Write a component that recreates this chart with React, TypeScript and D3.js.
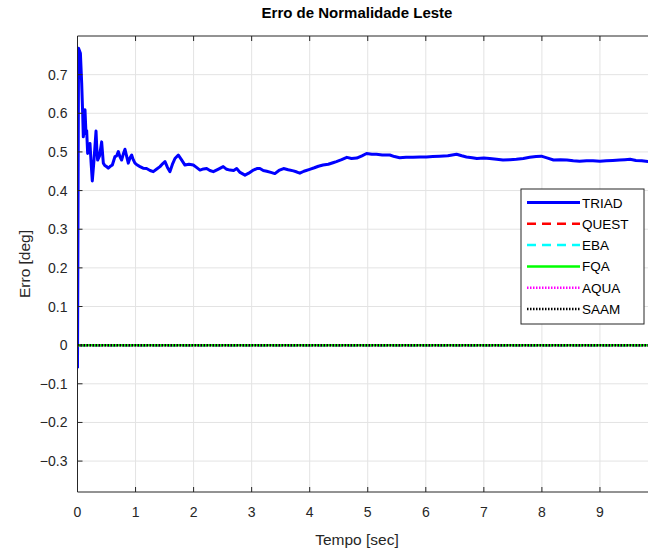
import * as d3 from "d3";

// Erro de normalidade (leste) - TRIAD, os demais algoritmos ficam em zero
const triadTime = [
  0, 0.008, 0.018, 0.05, 0.072, 0.089, 0.1, 0.115, 0.129, 0.146,
  0.158, 0.175, 0.195, 0.215, 0.235, 0.255, 0.285, 0.319, 0.332, 0.347,
  0.38, 0.416, 0.445, 0.47, 0.502, 0.53, 0.56, 0.6, 0.646, 0.675,
  0.703, 0.73, 0.76, 0.79, 0.818, 0.845, 0.875, 0.905, 0.933, 0.96,
  0.99, 1.03, 1.076, 1.13, 1.19, 1.25, 1.306, 1.36, 1.421, 1.47,
  1.507, 1.55, 1.593, 1.64, 1.679, 1.737, 1.79, 1.851, 1.92, 1.995,
  2.05, 2.11, 2.17, 2.225, 2.28, 2.34, 2.42, 2.51, 2.57, 2.627,
  2.69, 2.742, 2.8, 2.885, 2.95, 3.03, 3.09, 3.143, 3.2, 3.26,
  3.33, 3.4, 3.47, 3.55, 3.63, 3.72, 3.78, 3.83, 3.9, 4.0,
  4.08, 4.15, 4.23, 4.32, 4.4, 4.46, 4.55, 4.64, 4.72, 4.81,
  4.9, 4.98, 5.07, 5.15, 5.25, 5.38, 5.46, 5.55, 5.66, 5.78,
  5.9, 6.01, 6.12, 6.24, 6.38, 6.53, 6.62, 6.7, 6.8, 6.88,
  7.0, 7.1, 7.22, 7.33, 7.45, 7.56, 7.68, 7.79, 7.9, 7.99,
  8.1, 8.2, 8.32, 8.43, 8.54, 8.65, 8.77, 8.88, 9.0, 9.11,
  9.22, 9.34, 9.43, 9.52, 9.62, 9.72, 9.83, 9.9,
];
const triadError = [
  -0.06, 0.3, 0.768, 0.755, 0.678, 0.6, 0.539, 0.56, 0.609, 0.548,
  0.555, 0.496, 0.51, 0.522, 0.47, 0.425, 0.48, 0.554, 0.51, 0.479,
  0.49, 0.526, 0.471, 0.465, 0.462, 0.458, 0.462, 0.466, 0.488, 0.49,
  0.501, 0.488, 0.479, 0.495, 0.507, 0.49, 0.471, 0.485, 0.492, 0.48,
  0.471, 0.466, 0.462, 0.458, 0.457, 0.452, 0.449, 0.455, 0.462, 0.47,
  0.475, 0.46, 0.449, 0.47, 0.483, 0.492, 0.48, 0.466, 0.468, 0.466,
  0.46, 0.453, 0.456, 0.457, 0.452, 0.449, 0.455, 0.462, 0.455, 0.453,
  0.452, 0.457, 0.447, 0.44, 0.445, 0.453, 0.457, 0.457, 0.452, 0.45,
  0.447, 0.444, 0.452, 0.457, 0.454, 0.451, 0.448, 0.445, 0.45, 0.455,
  0.459, 0.463, 0.466, 0.468, 0.472, 0.475, 0.48, 0.486, 0.483, 0.484,
  0.49, 0.496, 0.494, 0.494, 0.492, 0.492, 0.488, 0.485, 0.486, 0.486,
  0.487, 0.487, 0.488, 0.489, 0.49, 0.494, 0.49, 0.487, 0.485, 0.483,
  0.484, 0.483, 0.481, 0.479, 0.48, 0.481, 0.483, 0.486, 0.488, 0.489,
  0.484, 0.479, 0.48, 0.479, 0.477, 0.476, 0.477, 0.477, 0.476, 0.477,
  0.478, 0.479, 0.48, 0.481, 0.478, 0.477, 0.475, 0.474,
];

// QUEST, EBA, FQA, AQUA e SAAM: erro nulo durante todo o ensaio
const zeroTime = [0, 10];
const zeroError = [0, 0];

const seriesNames = ["TRIAD", "QUEST", "EBA", "FQA", "AQUA", "SAAM"];
const xTicks = [0, 1, 2, 3, 4, 5, 6, 7, 8, 9];
const yTicks = [-0.3, -0.2, -0.1, 0, 0.1, 0.2, 0.3, 0.4, 0.5, 0.6, 0.7];

const styles: Record<string, { color: string; width: number; dash?: string }> = {
  TRIAD: { color: "#0000ff", width: 3 },
  QUEST: { color: "#ff0000", width: 2.5, dash: "9,6" },
  EBA: { color: "#00ffff", width: 2.5, dash: "9,6" },
  FQA: { color: "#00ff00", width: 2.5 },
  AQUA: { color: "#ff00ff", width: 2.5, dash: "1.5,1.5" },
  SAAM: { color: "#000000", width: 2.5, dash: "1.5,1.5" },
};

const W = 648;
const H = 552;
const margin = { top: 36, left: 77.5, bottom: 60 };
const plotRight = 649;
const font = "'Liberation Sans', Arial, Helvetica, sans-serif";
const axisColor = "#262626";

export default function App() {
  const x = d3.scaleLinear().domain([0, 9.845]).range([margin.left, plotRight]);
  const y = d3.scaleLinear().domain([-0.38, 0.8]).range([H - margin.bottom, margin.top]);

  const line = d3
    .line<[number, number]>()
    .x((d) => x(d[0]))
    .y((d) => y(d[1]));

  const triad = triadTime.map((t, i) => [t, triadError[i]] as [number, number]);
  const zeros = zeroTime.map((t, i) => [t, zeroError[i]] as [number, number]);

  const [x0, x1] = x.range();
  const [y0, y1] = y.range();
  // centro dos textos (o eixo original passa do recorte)
  const xMid = 357;

  const legendX = 521;
  const legendY = 189;
  const legendW = 123;
  const rowH = 21.3;

  return (
    <svg
      width={W}
      height={H}
      style={{ position: "absolute", left: 0, top: 0, background: "#fff" }}
      fontFamily={font}
    >
      <defs>
        <clipPath id="plot">
          <rect x={x0} y={y1} width={x1 - x0} height={y0 - y1} />
        </clipPath>
      </defs>

      {/* grade */}
      {xTicks.map((t) => (
        <line key={"gx" + t} x1={x(t)} x2={x(t)} y1={y1} y2={y0} stroke="#e3e3e3" />
      ))}
      {yTicks.map((t) => (
        <line key={"gy" + t} x1={x0} x2={x1} y1={y(t)} y2={y(t)} stroke="#e3e3e3" />
      ))}

      {/* séries */}
      <g clipPath="url(#plot)" fill="none">
        <path d={line(triad) ?? ""} stroke={styles.TRIAD.color} strokeWidth={styles.TRIAD.width} strokeLinejoin="round" />
        {seriesNames.slice(1).map((name) => (
          <path
            key={name}
            d={line(zeros) ?? ""}
            stroke={styles[name].color}
            strokeWidth={styles[name].width}
            strokeDasharray={styles[name].dash}
          />
        ))}
      </g>

      {/* eixos */}
      <g stroke={axisColor} strokeWidth={1} fill="none">
        <line x1={x0} x2={x1} y1={y0} y2={y0} />
        <line x1={x0} x2={x1} y1={y1} y2={y1} />
        <line x1={x0} x2={x0} y1={y1} y2={y0} />
        {xTicks.map((t) => (
          <g key={"tx" + t}>
            <line x1={x(t)} x2={x(t)} y1={y0} y2={y0 - 5} />
            <line x1={x(t)} x2={x(t)} y1={y1} y2={y1 + 5} />
          </g>
        ))}
        {yTicks.map((t) => (
          <line key={"ty" + t} x1={x0} x2={x0 + 5} y1={y(t)} y2={y(t)} />
        ))}
      </g>

      <g fill={axisColor} fontSize={14}>
        {xTicks.map((t) => (
          <text key={"lx" + t} x={x(t)} y={y0 + 25} textAnchor="middle">
            {t}
          </text>
        ))}
        {yTicks.map((t) => (
          <text key={"ly" + t} x={x0 - 10} y={y(t) + 5} textAnchor="end">
            {d3.format("")(Math.round(t * 10) / 10)}
          </text>
        ))}
      </g>

      <text x={xMid} y={y0 + 53} textAnchor="middle" fontSize={15.5} fill={axisColor}>
        Tempo [sec]
      </text>
      <text
        transform={`translate(30,${(y0 + y1) / 2}) rotate(-90)`}
        textAnchor="middle"
        fontSize={15.5}
        fill={axisColor}
      >
        Erro [deg]
      </text>
      <text x={xMid} y={18} textAnchor="middle" fontSize={15} fontWeight="bold" fill="#000">
        Erro de Normalidade Leste
      </text>

      {/* legenda */}
      <rect x={legendX} y={legendY} width={legendW} height={135} fill="#fff" stroke={axisColor} />
      {seriesNames.map((name, i) => {
        const ly = legendY + 13.5 + i * rowH;
        const s = styles[name];
        return (
          <g key={"lg" + name}>
            <line
              x1={legendX + 6}
              x2={legendX + 59}
              y1={ly}
              y2={ly}
              stroke={s.color}
              strokeWidth={s.width}
              strokeDasharray={s.dash}
            />
            <text x={legendX + 61} y={ly + 5} fontSize={13.5} fill="#000">
              {name}
            </text>
          </g>
        );
      })}
    </svg>
  );
}
